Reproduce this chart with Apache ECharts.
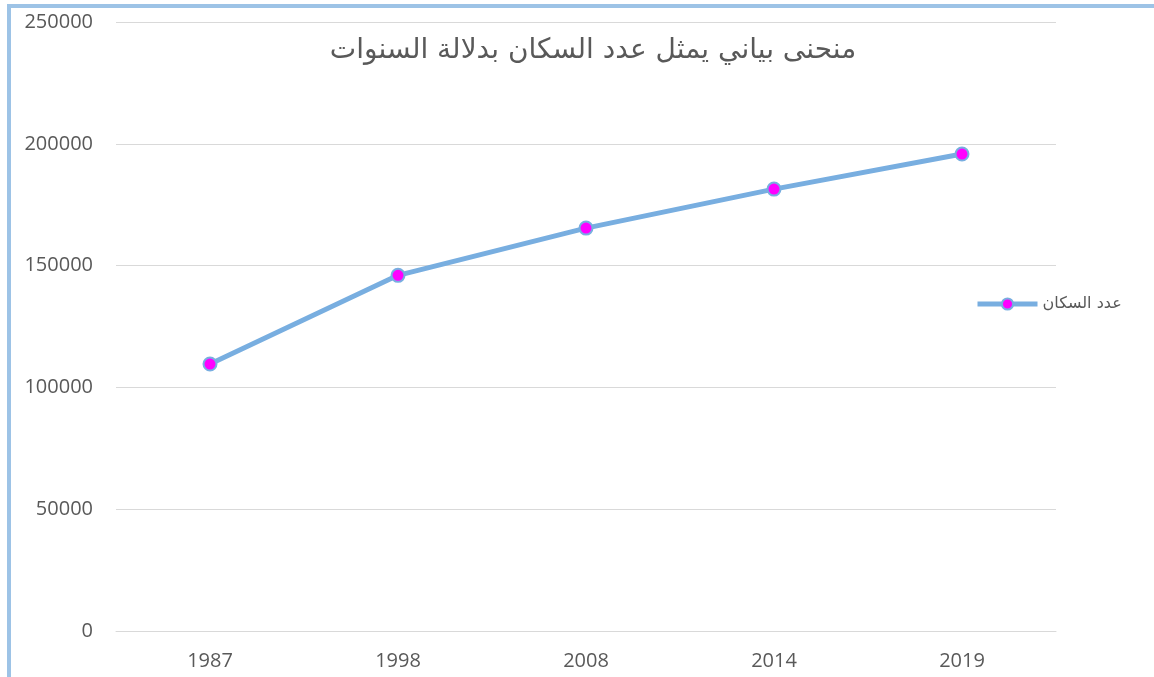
<!DOCTYPE html>
<html>
<head>
<meta charset="utf-8">
<script src="https://cdn.jsdelivr.net/npm/echarts@6/dist/echarts.min.js"></script>
<style>
  html, body { margin: 0; padding: 0; background: #fff; overflow: hidden; }
  #frame {
    position: absolute; left: 7px; top: 4px; width: 1200px; height: 700px;
    border-left: 4px solid #9dc3e6; border-top: 4px solid #9dc3e6;
  }
  #main { position: absolute; left: 0; top: 0; width: 1154px; height: 677px; }
</style>
</head>
<body>
<div id="frame"></div>
<div id="main"></div>
<script>
// years and population counts
const years = ["1987", "1998", "2008", "2014", "2019"];
const population = [109600, 146000, 165400, 181400, 195800];
const seriesName = "عدد السكان";
const chartTitle = "منحنى بياني يمثل عدد السكان بدلالة السنوات";

var myChart = echarts.init(document.getElementById("main"));

var option = {
  animation: false,
  title: {
    text: chartTitle,
    left: 588,
    textAlign: "center",
    top: 32,
    textStyle: {
      fontFamily: "DejaVu Sans, Liberation Sans, sans-serif",
      fontSize: 28,
      fontWeight: "normal",
      color: "#595959",
    },
  },
  legend: {
    data: [seriesName],
    left: 970,
    top: 291,
    itemWidth: 60,
    itemHeight: 14,
    itemGap: 5,
    lineStyle: { width: 5 },
    textStyle: {
      fontFamily: "DejaVu Sans, sans-serif",
      fontSize: 16,
      color: "#595959",
    },
  },
  grid: {
    left: 116,
    right: 98,
    top: 22,
    bottom: 46,
  },
  xAxis: {
    type: "category",
    data: years,
    boundaryGap: true,
    axisLine: { lineStyle: { color: "#d9d9d9", width: 1 } },
    axisTick: { show: false },
    axisLabel: {
      margin: 20,
      fontFamily: "Open Sans, sans-serif",
      fontSize: 20,
      color: "#595959",
    },
  },
  yAxis: {
    type: "value",
    min: 0,
    max: 250000,
    interval: 50000,
    axisLine: { show: false },
    axisTick: { show: false },
    splitLine: { lineStyle: { color: "#d9d9d9", width: 1 } },
    axisLabel: {
      margin: 23,
      fontFamily: "Open Sans, sans-serif",
      fontSize: 20,
      color: "#595959",
      formatter: function (v) { return String(v); },
    },
  },
  series: [
    {
      name: seriesName,
      type: "line",
      data: population,
      symbol: "circle",
      symbolSize: 13,
      lineStyle: { color: "#78aee0", width: 5 },
      itemStyle: { color: "#ff00ff", borderColor: "#78aee0", borderWidth: 2 },
    },
  ],
};

myChart.setOption(option);
</script>
</body>
</html>
